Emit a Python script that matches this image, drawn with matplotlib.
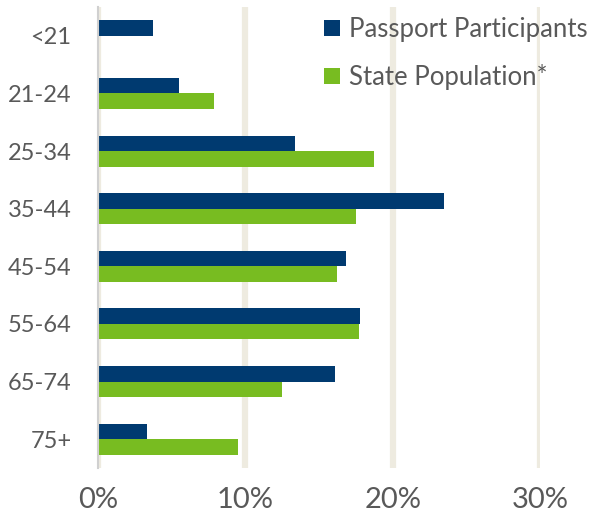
import matplotlib
matplotlib.use("Agg")
import matplotlib.pyplot as plt
import numpy as np
from matplotlib.ticker import PercentFormatter

# age groups, top to bottom
ages = ["<21", "21-24", "25-34", "35-44", "45-54", "55-64", "65-74", "75+"]
passport = [3.7, 5.5, 13.4, 23.5, 16.8, 17.8, 16.1, 3.3]   # %
state = [0.0, 7.9, 18.7, 17.5, 16.2, 17.7, 12.5, 9.5]       # %

NAVY = "#003A70"
GREEN = "#78BC21"
GRID = "#EEEBE0"
TXT = "#595959"

plt.rcParams["font.family"] = ["Lato", "DejaVu Sans"]

fig = plt.figure(figsize=(5.9, 5.15), dpi=100)
ax = fig.add_axes([98 / 590, 47 / 515, 442 / 590, 461 / 515])

y = np.arange(len(ages))
h = 0.27
ax.barh(y - h / 2, passport, height=h, color=NAVY, label="Passport Participants")
ax.barh(y + h / 2, state, height=h, color=GREEN, label="State Population*")

ax.set_ylim(len(ages) - 0.5, -0.5)
ax.set_xlim(0, 30)
ax.set_xticks([0, 10, 20, 30])
ax.xaxis.set_major_formatter(PercentFormatter(decimals=0))
ax.set_yticks(y)
ax.set_yticklabels(ages)

ax.tick_params(axis="x", length=0, pad=14, labelsize=21, labelcolor=TXT)
ax.tick_params(axis="y", length=0, pad=19, labelsize=17, labelcolor=TXT)

ax.set_axisbelow(True)
ax.grid(axis="x", color=GRID, linewidth=4.5)
ax.grid(axis="y", visible=False)
for s in ["top", "right", "bottom"]:
    ax.spines[s].set_visible(False)
ax.spines["left"].set_color("#D0D0D0")
ax.spines["left"].set_linewidth(1.5)
ax.spines["left"].set_zorder(5)

leg = ax.legend(loc="upper right", bbox_to_anchor=(1.16, 1.028), frameon=False,
                fontsize=18.5, handlelength=0.62, handleheight=0.62,
                handletextpad=0.35, labelspacing=0.85, labelcolor=TXT)

fig.savefig("out.png", dpi=100)
